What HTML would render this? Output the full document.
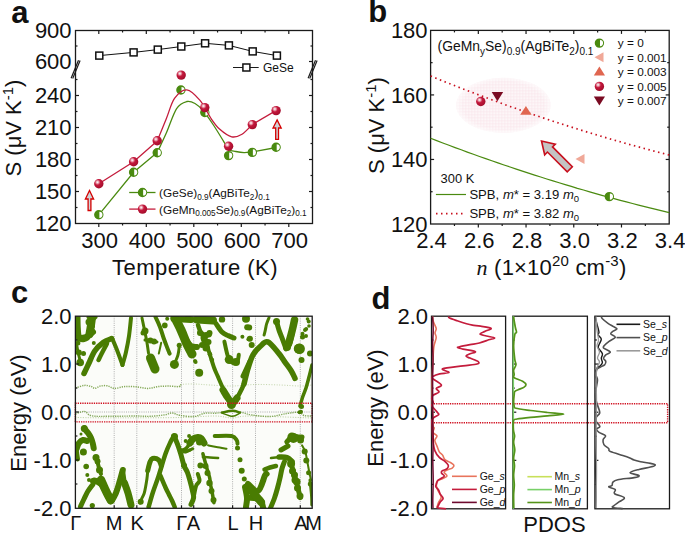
<!DOCTYPE html>
<html><head><meta charset="utf-8"><style>
html,body{margin:0;padding:0;background:#fff;}
body{width:685px;height:533px;overflow:hidden;}
svg{display:block;font-family:"Liberation Sans", sans-serif;}
</style></head><body>
<svg width="685" height="533" viewBox="0 0 685 533">

<defs>
 <radialGradient id="sph" cx="0.36" cy="0.33" r="0.72">
  <stop offset="0" stop-color="#ffffff"/>
  <stop offset="0.16" stop-color="#eeb4c0"/>
  <stop offset="0.42" stop-color="#c4183c"/>
  <stop offset="1" stop-color="#a00c2a"/>
 </radialGradient>
 <pattern id="ellp" width="1.5" height="1.5" patternUnits="userSpaceOnUse">
  <rect width="1.5" height="1.5" fill="#fefafb"/>
  <rect width="1.5" height="0.45" fill="#fae7ec"/>
  <rect width="0.45" height="1.5" fill="#fae7ec"/>
 </pattern>
 <radialGradient id="ellfade" cx="0.5" cy="0.5" r="0.5">
  <stop offset="0.85" stop-color="#fff" stop-opacity="0"/>
  <stop offset="1" stop-color="#fff" stop-opacity="0.6"/>
 </radialGradient>
</defs>
<text x="11.20" y="23.00" font-size="31" text-anchor="start" font-weight="bold" fill="#111" >a</text>
<rect x="75.5" y="30.5" width="237.0" height="193.0" fill="none" stroke="#1a1a1a" stroke-width="1.3"/>
<line x1="98.80" y1="223.50" x2="98.80" y2="227.00" stroke="#1a1a1a" stroke-width="1.2" />
<line x1="98.80" y1="30.50" x2="98.80" y2="34.00" stroke="#1a1a1a" stroke-width="1.2" />
<line x1="122.55" y1="223.50" x2="122.55" y2="225.50" stroke="#1a1a1a" stroke-width="1.2" />
<line x1="122.55" y1="30.50" x2="122.55" y2="32.50" stroke="#1a1a1a" stroke-width="1.2" />
<line x1="146.30" y1="223.50" x2="146.30" y2="227.00" stroke="#1a1a1a" stroke-width="1.2" />
<line x1="146.30" y1="30.50" x2="146.30" y2="34.00" stroke="#1a1a1a" stroke-width="1.2" />
<line x1="170.05" y1="223.50" x2="170.05" y2="225.50" stroke="#1a1a1a" stroke-width="1.2" />
<line x1="170.05" y1="30.50" x2="170.05" y2="32.50" stroke="#1a1a1a" stroke-width="1.2" />
<line x1="193.80" y1="223.50" x2="193.80" y2="227.00" stroke="#1a1a1a" stroke-width="1.2" />
<line x1="193.80" y1="30.50" x2="193.80" y2="34.00" stroke="#1a1a1a" stroke-width="1.2" />
<line x1="217.55" y1="223.50" x2="217.55" y2="225.50" stroke="#1a1a1a" stroke-width="1.2" />
<line x1="217.55" y1="30.50" x2="217.55" y2="32.50" stroke="#1a1a1a" stroke-width="1.2" />
<line x1="241.30" y1="223.50" x2="241.30" y2="227.00" stroke="#1a1a1a" stroke-width="1.2" />
<line x1="241.30" y1="30.50" x2="241.30" y2="34.00" stroke="#1a1a1a" stroke-width="1.2" />
<line x1="265.05" y1="223.50" x2="265.05" y2="225.50" stroke="#1a1a1a" stroke-width="1.2" />
<line x1="265.05" y1="30.50" x2="265.05" y2="32.50" stroke="#1a1a1a" stroke-width="1.2" />
<line x1="288.80" y1="223.50" x2="288.80" y2="227.00" stroke="#1a1a1a" stroke-width="1.2" />
<line x1="288.80" y1="30.50" x2="288.80" y2="34.00" stroke="#1a1a1a" stroke-width="1.2" />
<text x="99.70" y="247.70" font-size="22" text-anchor="middle" font-weight="normal" fill="#111" >300</text>
<text x="147.20" y="247.70" font-size="22" text-anchor="middle" font-weight="normal" fill="#111" >400</text>
<text x="194.70" y="247.70" font-size="22" text-anchor="middle" font-weight="normal" fill="#111" >500</text>
<text x="242.20" y="247.70" font-size="22" text-anchor="middle" font-weight="normal" fill="#111" >600</text>
<text x="289.70" y="247.70" font-size="22" text-anchor="middle" font-weight="normal" fill="#111" >700</text>
<line x1="75.50" y1="207.50" x2="77.50" y2="207.50" stroke="#1a1a1a" stroke-width="1.2" />
<line x1="312.50" y1="207.50" x2="310.50" y2="207.50" stroke="#1a1a1a" stroke-width="1.2" />
<line x1="75.50" y1="191.50" x2="79.00" y2="191.50" stroke="#1a1a1a" stroke-width="1.2" />
<line x1="312.50" y1="191.50" x2="309.00" y2="191.50" stroke="#1a1a1a" stroke-width="1.2" />
<line x1="75.50" y1="175.50" x2="77.50" y2="175.50" stroke="#1a1a1a" stroke-width="1.2" />
<line x1="312.50" y1="175.50" x2="310.50" y2="175.50" stroke="#1a1a1a" stroke-width="1.2" />
<line x1="75.50" y1="159.50" x2="79.00" y2="159.50" stroke="#1a1a1a" stroke-width="1.2" />
<line x1="312.50" y1="159.50" x2="309.00" y2="159.50" stroke="#1a1a1a" stroke-width="1.2" />
<line x1="75.50" y1="143.50" x2="77.50" y2="143.50" stroke="#1a1a1a" stroke-width="1.2" />
<line x1="312.50" y1="143.50" x2="310.50" y2="143.50" stroke="#1a1a1a" stroke-width="1.2" />
<line x1="75.50" y1="127.50" x2="79.00" y2="127.50" stroke="#1a1a1a" stroke-width="1.2" />
<line x1="312.50" y1="127.50" x2="309.00" y2="127.50" stroke="#1a1a1a" stroke-width="1.2" />
<line x1="75.50" y1="111.50" x2="77.50" y2="111.50" stroke="#1a1a1a" stroke-width="1.2" />
<line x1="312.50" y1="111.50" x2="310.50" y2="111.50" stroke="#1a1a1a" stroke-width="1.2" />
<line x1="75.50" y1="95.50" x2="79.00" y2="95.50" stroke="#1a1a1a" stroke-width="1.2" />
<line x1="312.50" y1="95.50" x2="309.00" y2="95.50" stroke="#1a1a1a" stroke-width="1.2" />
<line x1="75.50" y1="79.50" x2="77.50" y2="79.50" stroke="#1a1a1a" stroke-width="1.2" />
<line x1="312.50" y1="79.50" x2="310.50" y2="79.50" stroke="#1a1a1a" stroke-width="1.2" />
<line x1="75.50" y1="46.00" x2="77.50" y2="46.00" stroke="#1a1a1a" stroke-width="1.2" />
<line x1="312.50" y1="46.00" x2="310.50" y2="46.00" stroke="#1a1a1a" stroke-width="1.2" />
<line x1="312.50" y1="61.50" x2="309.00" y2="61.50" stroke="#1a1a1a" stroke-width="1.2" />
<text x="71.60" y="231.40" font-size="22" text-anchor="end" font-weight="normal" fill="#111" >120</text>
<text x="71.60" y="199.40" font-size="22" text-anchor="end" font-weight="normal" fill="#111" >150</text>
<text x="71.60" y="167.40" font-size="22" text-anchor="end" font-weight="normal" fill="#111" >180</text>
<text x="71.60" y="135.40" font-size="22" text-anchor="end" font-weight="normal" fill="#111" >210</text>
<text x="71.60" y="103.40" font-size="22" text-anchor="end" font-weight="normal" fill="#111" >240</text>
<text x="71.60" y="69.40" font-size="22" text-anchor="end" font-weight="normal" fill="#111" >600</text>
<text x="71.60" y="38.40" font-size="22" text-anchor="end" font-weight="normal" fill="#111" >900</text>
<line x1="71.10" y1="78.20" x2="78.50" y2="60.20" stroke="#1a1a1a" stroke-width="1.2" />
<line x1="72.70" y1="78.60" x2="80.10" y2="60.60" stroke="#1a1a1a" stroke-width="1.2" />
<line x1="308.10" y1="78.20" x2="315.50" y2="60.20" stroke="#1a1a1a" stroke-width="1.2" />
<line x1="309.70" y1="78.60" x2="317.10" y2="60.60" stroke="#1a1a1a" stroke-width="1.2" />
<text x="195.00" y="274.80" font-size="22" text-anchor="middle" font-weight="normal" fill="#111" letter-spacing="0.47">Temperature (K)</text>
<text transform="translate(20.5,128) rotate(-90)" font-size="22" text-anchor="middle" fill="#111">S (μV K<tspan font-size="15" dy="-8">-1</tspan><tspan dy="8">)</tspan></text>
<polyline points="99.3,55.6 133.6,52.4 157.8,49.6 181.3,46.5 205.1,43.3 228.9,45.4 252.7,51.4 276.9,55.6" fill="none" stroke="#111" stroke-width="1"/>
<rect x="95.80" y="52.10" width="7.0" height="7.0" fill="#fff" stroke="#111" stroke-width="1.5"/>
<rect x="130.10" y="48.90" width="7.0" height="7.0" fill="#fff" stroke="#111" stroke-width="1.5"/>
<rect x="154.30" y="46.10" width="7.0" height="7.0" fill="#fff" stroke="#111" stroke-width="1.5"/>
<rect x="177.80" y="43.00" width="7.0" height="7.0" fill="#fff" stroke="#111" stroke-width="1.5"/>
<rect x="201.60" y="39.80" width="7.0" height="7.0" fill="#fff" stroke="#111" stroke-width="1.5"/>
<rect x="225.40" y="41.90" width="7.0" height="7.0" fill="#fff" stroke="#111" stroke-width="1.5"/>
<rect x="249.20" y="47.90" width="7.0" height="7.0" fill="#fff" stroke="#111" stroke-width="1.5"/>
<rect x="273.40" y="52.10" width="7.0" height="7.0" fill="#fff" stroke="#111" stroke-width="1.5"/>
<line x1="233.00" y1="67.50" x2="258.70" y2="67.50" stroke="#1a1a1a" stroke-width="1" />
<rect x="242.90" y="64.00" width="7.0" height="7.0" fill="#fff" stroke="#111" stroke-width="1.5"/>
<text x="263.00" y="71.80" font-size="12" text-anchor="start" font-weight="normal" fill="#111" >GeSe</text>
<polyline points="98.8,214.8 133.6,172.3 157.2,152.6" fill="none" stroke="#4a8a10" stroke-width="1.3"/>
<path d="M157.20,152.60 C158.72,149.35 163.07,140.43 166.30,133.10 C169.53,125.77 173.18,113.87 176.60,108.60 C180.02,103.33 183.73,102.35 186.80,101.50 C189.87,100.65 192.28,101.97 195.00,103.50 C197.72,105.03 200.03,107.12 203.10,110.70 C206.17,114.28 209.98,119.90 213.40,125.00 C216.82,130.10 221.05,137.22 223.60,141.30 C226.15,145.38 226.67,147.80 228.70,149.50 C230.73,151.20 233.25,150.98 235.80,151.50 C238.35,152.02 241.27,152.52 244.00,152.60 C246.73,152.68 250.83,152.10 252.20,152.00" fill="none" stroke="#4a8a10" stroke-width="1.3"/>
<polyline points="252.2,152.0 276.3,147.5" fill="none" stroke="#4a8a10" stroke-width="1.3"/>
<circle cx="98.80" cy="214.80" r="3.95" fill="#4a8a10" stroke="#4a8a10" stroke-width="1.5"/>
<path d="M99.40,211.70 A3.1,3.1 0 0 1 99.40,217.90 Z" fill="#fff"/>
<circle cx="133.60" cy="172.30" r="3.95" fill="#4a8a10" stroke="#4a8a10" stroke-width="1.5"/>
<path d="M134.20,169.20 A3.1,3.1 0 0 1 134.20,175.40 Z" fill="#fff"/>
<circle cx="157.20" cy="152.70" r="3.95" fill="#4a8a10" stroke="#4a8a10" stroke-width="1.5"/>
<path d="M157.80,149.60 A3.1,3.1 0 0 1 157.80,155.80 Z" fill="#fff"/>
<circle cx="180.90" cy="90.00" r="3.95" fill="#4a8a10" stroke="#4a8a10" stroke-width="1.5"/>
<path d="M181.50,86.90 A3.1,3.1 0 0 1 181.50,93.10 Z" fill="#fff"/>
<circle cx="204.80" cy="112.50" r="3.95" fill="#4a8a10" stroke="#4a8a10" stroke-width="1.5"/>
<path d="M205.40,109.40 A3.1,3.1 0 0 1 205.40,115.60 Z" fill="#fff"/>
<circle cx="228.60" cy="155.60" r="3.95" fill="#4a8a10" stroke="#4a8a10" stroke-width="1.5"/>
<path d="M229.20,152.50 A3.1,3.1 0 0 1 229.20,158.70 Z" fill="#fff"/>
<circle cx="252.30" cy="152.40" r="3.95" fill="#4a8a10" stroke="#4a8a10" stroke-width="1.5"/>
<path d="M252.90,149.30 A3.1,3.1 0 0 1 252.90,155.50 Z" fill="#fff"/>
<circle cx="276.10" cy="147.30" r="3.95" fill="#4a8a10" stroke="#4a8a10" stroke-width="1.5"/>
<path d="M276.70,144.20 A3.1,3.1 0 0 1 276.70,150.40 Z" fill="#fff"/>
<polyline points="98.8,183.8 133.6,161.8 157.2,140.9" fill="none" stroke="#c41c3c" stroke-width="1.3"/>
<path d="M157.20,140.90 C158.72,137.22 163.42,125.88 166.30,118.80 C169.18,111.72 171.08,103.23 174.50,98.40 C177.92,93.57 182.55,89.47 186.80,89.80 C191.05,90.13 195.92,95.57 200.00,100.40 C204.08,105.23 208.05,114.03 211.30,118.80 C214.55,123.57 216.10,126.00 219.50,129.00 C222.90,132.00 227.95,135.93 231.70,136.80 C235.45,137.67 238.58,136.23 242.00,134.20 C245.42,132.17 250.50,126.20 252.20,124.60" fill="none" stroke="#c41c3c" stroke-width="1.3"/>
<polyline points="252.2,124.6 276.3,110.4" fill="none" stroke="#c41c3c" stroke-width="1.3"/>
<circle cx="98.80" cy="183.80" r="4.7" fill="url(#sph)"/>
<circle cx="133.60" cy="161.80" r="4.7" fill="url(#sph)"/>
<circle cx="157.20" cy="140.80" r="4.7" fill="url(#sph)"/>
<circle cx="181.20" cy="75.10" r="4.7" fill="url(#sph)"/>
<circle cx="204.80" cy="107.60" r="4.7" fill="url(#sph)"/>
<circle cx="228.60" cy="146.30" r="4.7" fill="url(#sph)"/>
<circle cx="252.30" cy="124.60" r="4.7" fill="url(#sph)"/>
<circle cx="276.10" cy="110.60" r="4.7" fill="url(#sph)"/>
<line x1="129.20" y1="192.50" x2="155.50" y2="192.50" stroke="#4a8a10" stroke-width="1.3" />
<circle cx="142.50" cy="192.50" r="3.95" fill="#4a8a10" stroke="#4a8a10" stroke-width="1.5"/>
<path d="M143.10,189.40 A3.1,3.1 0 0 1 143.10,195.60 Z" fill="#fff"/>
<line x1="129.20" y1="209.10" x2="155.50" y2="209.10" stroke="#c41c3c" stroke-width="1.3" />
<circle cx="142.50" cy="209.10" r="4.7" fill="url(#sph)"/>
<text x="159.1" y="197.0" font-size="11.8" fill="#111">(GeSe)<tspan font-size="8.2" dy="2.5">0.9</tspan><tspan dy="-2.5">(AgBiTe</tspan><tspan font-size="8.2" dy="2.5">2</tspan><tspan dy="-2.5">)</tspan><tspan font-size="8.2" dy="2.5">0.1</tspan></text>
<text x="159.1" y="213.6" font-size="11.8" fill="#111">(GeMn<tspan font-size="8.2" dy="2.5">0.005</tspan><tspan dy="-2.5">Se)</tspan><tspan font-size="8.2" dy="2.5">0.9</tspan><tspan dy="-2.5">(AgBiTe</tspan><tspan font-size="8.2" dy="2.5">2</tspan><tspan dy="-2.5">)</tspan><tspan font-size="8.2" dy="2.5">0.1</tspan></text>
<path d="M89.50,190.50 L93.60,199.00 L90.90,199.00 L90.90,210.50 L88.10,210.50 L88.10,199.00 L85.40,199.00 Z" fill="#cfd2d6" stroke="#d40000" stroke-width="1.3" stroke-linejoin="miter"/>
<path d="M277.10,119.90 L281.20,128.00 L278.50,128.00 L278.50,139.30 L275.70,139.30 L275.70,128.00 L273.00,128.00 Z" fill="#cfd2d6" stroke="#d40000" stroke-width="1.3" stroke-linejoin="miter"/>
<text x="368.30" y="22.20" font-size="31" text-anchor="start" font-weight="bold" fill="#111" >b</text>
<ellipse cx="503.4" cy="105.3" rx="47.2" ry="27.5" fill="url(#ellp)"/>
<ellipse cx="503.4" cy="105.3" rx="47.2" ry="27.5" fill="url(#ellfade)"/>
<rect x="430.6" y="30.4" width="238.60000000000002" height="193.6" fill="none" stroke="#1a1a1a" stroke-width="1.3"/>
<line x1="454.46" y1="224.00" x2="454.46" y2="226.00" stroke="#1a1a1a" stroke-width="1.2" />
<line x1="454.46" y1="30.40" x2="454.46" y2="32.40" stroke="#1a1a1a" stroke-width="1.2" />
<line x1="478.32" y1="224.00" x2="478.32" y2="227.50" stroke="#1a1a1a" stroke-width="1.2" />
<line x1="478.32" y1="30.40" x2="478.32" y2="33.90" stroke="#1a1a1a" stroke-width="1.2" />
<line x1="502.18" y1="224.00" x2="502.18" y2="226.00" stroke="#1a1a1a" stroke-width="1.2" />
<line x1="502.18" y1="30.40" x2="502.18" y2="32.40" stroke="#1a1a1a" stroke-width="1.2" />
<line x1="526.04" y1="224.00" x2="526.04" y2="227.50" stroke="#1a1a1a" stroke-width="1.2" />
<line x1="526.04" y1="30.40" x2="526.04" y2="33.90" stroke="#1a1a1a" stroke-width="1.2" />
<line x1="549.90" y1="224.00" x2="549.90" y2="226.00" stroke="#1a1a1a" stroke-width="1.2" />
<line x1="549.90" y1="30.40" x2="549.90" y2="32.40" stroke="#1a1a1a" stroke-width="1.2" />
<line x1="573.76" y1="224.00" x2="573.76" y2="227.50" stroke="#1a1a1a" stroke-width="1.2" />
<line x1="573.76" y1="30.40" x2="573.76" y2="33.90" stroke="#1a1a1a" stroke-width="1.2" />
<line x1="597.62" y1="224.00" x2="597.62" y2="226.00" stroke="#1a1a1a" stroke-width="1.2" />
<line x1="597.62" y1="30.40" x2="597.62" y2="32.40" stroke="#1a1a1a" stroke-width="1.2" />
<line x1="621.48" y1="224.00" x2="621.48" y2="227.50" stroke="#1a1a1a" stroke-width="1.2" />
<line x1="621.48" y1="30.40" x2="621.48" y2="33.90" stroke="#1a1a1a" stroke-width="1.2" />
<line x1="645.34" y1="224.00" x2="645.34" y2="226.00" stroke="#1a1a1a" stroke-width="1.2" />
<line x1="645.34" y1="30.40" x2="645.34" y2="32.40" stroke="#1a1a1a" stroke-width="1.2" />
<text x="431.50" y="247.50" font-size="22" text-anchor="middle" font-weight="normal" fill="#111" >2.4</text>
<text x="479.22" y="247.50" font-size="22" text-anchor="middle" font-weight="normal" fill="#111" >2.6</text>
<text x="526.94" y="247.50" font-size="22" text-anchor="middle" font-weight="normal" fill="#111" >2.8</text>
<text x="574.66" y="247.50" font-size="22" text-anchor="middle" font-weight="normal" fill="#111" >3.0</text>
<text x="622.38" y="247.50" font-size="22" text-anchor="middle" font-weight="normal" fill="#111" >3.2</text>
<text x="670.10" y="247.50" font-size="22" text-anchor="middle" font-weight="normal" fill="#111" >3.4</text>
<line x1="430.60" y1="191.73" x2="432.60" y2="191.73" stroke="#1a1a1a" stroke-width="1.2" />
<line x1="669.20" y1="191.73" x2="667.20" y2="191.73" stroke="#1a1a1a" stroke-width="1.2" />
<line x1="430.60" y1="159.46" x2="434.10" y2="159.46" stroke="#1a1a1a" stroke-width="1.2" />
<line x1="669.20" y1="159.46" x2="665.70" y2="159.46" stroke="#1a1a1a" stroke-width="1.2" />
<line x1="430.60" y1="127.19" x2="432.60" y2="127.19" stroke="#1a1a1a" stroke-width="1.2" />
<line x1="669.20" y1="127.19" x2="667.20" y2="127.19" stroke="#1a1a1a" stroke-width="1.2" />
<line x1="430.60" y1="94.92" x2="434.10" y2="94.92" stroke="#1a1a1a" stroke-width="1.2" />
<line x1="669.20" y1="94.92" x2="665.70" y2="94.92" stroke="#1a1a1a" stroke-width="1.2" />
<line x1="430.60" y1="62.65" x2="432.60" y2="62.65" stroke="#1a1a1a" stroke-width="1.2" />
<line x1="669.20" y1="62.65" x2="667.20" y2="62.65" stroke="#1a1a1a" stroke-width="1.2" />
<text x="427.60" y="231.90" font-size="22" text-anchor="end" font-weight="normal" fill="#111" >120</text>
<text x="427.60" y="167.36" font-size="22" text-anchor="end" font-weight="normal" fill="#111" >140</text>
<text x="427.60" y="102.82" font-size="22" text-anchor="end" font-weight="normal" fill="#111" >160</text>
<text x="427.60" y="38.28" font-size="22" text-anchor="end" font-weight="normal" fill="#111" >180</text>
<text transform="translate(383.8,125.5) rotate(-90)" font-size="22" text-anchor="middle" fill="#111">S (μV K<tspan font-size="15" dy="-8">-1</tspan><tspan dy="8">)</tspan></text>
<text x="476.6" y="274.7" font-size="22" fill="#111" letter-spacing="0.2"><tspan font-family="Liberation Serif" font-style="italic">n</tspan> (1×10<tspan font-size="15" dy="-9">20</tspan><tspan dy="9"> cm</tspan><tspan font-size="15" dy="-9">-3</tspan><tspan dy="9">)</tspan></text>
<polyline points="430.6,138.3 436.7,140.6 442.8,143.0 449.0,145.3 455.1,147.6 461.2,149.8 467.3,152.1 473.4,154.3 479.5,156.5 485.7,158.6 491.8,160.8 497.9,162.9 504.0,165.0 510.1,167.0 516.3,169.1 522.4,171.1 528.5,173.1 534.6,175.1 540.7,177.0 546.8,179.0 553.0,180.9 559.1,182.8 565.2,184.6 571.3,186.4 577.4,188.3 583.5,190.0 589.7,191.8 595.8,193.6 601.9,195.3 608.0,197.0 614.1,198.6 620.3,200.3 626.4,201.9 632.5,203.5 638.6,205.1 644.7,206.6 650.8,208.2 657.0,209.7 663.1,211.2 669.2,212.6" fill="none" stroke="#4a8a10" stroke-width="1.2"/>
<polyline points="430.6,76.0 436.7,78.5 442.8,81.0 449.0,83.4 455.1,85.8 461.2,88.2 467.3,90.6 473.4,92.9 479.5,95.2 485.7,97.5 491.8,99.8 497.9,102.0 504.0,104.3 510.1,106.5 516.3,108.6 522.4,110.8 528.5,112.9 534.6,115.0 540.7,117.1 546.8,119.1 553.0,121.2 559.1,123.2 565.2,125.1 571.3,127.1 577.4,129.0 583.5,130.9 589.7,132.8 595.8,134.6 601.9,136.5 608.0,138.3 614.1,140.1 620.3,141.8 626.4,143.6 632.5,145.3 638.6,146.9 644.7,148.6 650.8,150.2 657.0,151.9 663.1,153.4 669.2,155.0" fill="none" stroke="#c8101e" stroke-width="1.7" stroke-dasharray="1.5 3.5" />
<circle cx="609.30" cy="196.60" r="3.95" fill="#4a8a10" stroke="#4a8a10" stroke-width="1.5"/>
<path d="M609.90,193.50 A3.1,3.1 0 0 1 609.90,199.70 Z" fill="#fff"/>
<circle cx="480.80" cy="101.50" r="4.7" fill="url(#sph)"/>
<path d="M491.7,92 L503.2,92 L497.4,101.2 Z" fill="#7a0a22"/>
<path d="M525.9,105.9 L531.6,114.7 L520.2,114.7 Z" fill="#e06650"/>
<path d="M575.5,159 L584.5,154 L584.5,164 Z" fill="#f0a898"/>
<path d="M541.50,141.00 L544.68,154.79 L547.44,152.03 L567.24,171.83 L572.33,166.74 L552.53,146.94 L555.29,144.18 Z" fill="#c4c4c4" stroke="#c8101e" stroke-width="1.6" stroke-linejoin="miter"/>
<text x="437.6" y="51" font-size="13.9" fill="#111">(GeMn<tspan font-size="10" dy="3.5">y</tspan><tspan dy="-3.5">Se)</tspan><tspan font-size="10" dy="3.5">0.9</tspan><tspan dy="-3.5">(AgBiTe</tspan><tspan font-size="10" dy="3.5">2</tspan><tspan dy="-3.5">)</tspan><tspan font-size="10" dy="3.5">0.1</tspan></text>
<circle cx="599.40" cy="43.10" r="3.95" fill="#4a8a10" stroke="#4a8a10" stroke-width="1.5"/>
<path d="M600.00,40.00 A3.1,3.1 0 0 1 600.00,46.20 Z" fill="#fff"/>
<path d="M594.5,57.2 L603.5,52.2 L603.5,62.2 Z" fill="#f0a898"/>
<path d="M599.4,66.5 L605,75.5 L593.8,75.5 Z" fill="#e06650"/>
<circle cx="599.40" cy="86.40" r="4.7" fill="url(#sph)"/>
<path d="M593.8,96.5 L605,96.5 L599.4,105.5 Z" fill="#7a0a22"/>
<text x="617.80" y="47.40" font-size="11.8" text-anchor="start" font-weight="normal" fill="#111" >y = 0</text>
<text x="617.80" y="61.50" font-size="11.8" text-anchor="start" font-weight="normal" fill="#111" >y = 0.001</text>
<text x="617.80" y="75.80" font-size="11.8" text-anchor="start" font-weight="normal" fill="#111" >y = 0.003</text>
<text x="617.80" y="90.70" font-size="11.8" text-anchor="start" font-weight="normal" fill="#111" >y = 0.005</text>
<text x="617.80" y="105.30" font-size="11.8" text-anchor="start" font-weight="normal" fill="#111" >y = 0.007</text>
<text x="440.60" y="183.40" font-size="12.9" text-anchor="start" font-weight="normal" fill="#111" >300 K</text>
<line x1="435.90" y1="194.50" x2="466.00" y2="194.50" stroke="#4a8a10" stroke-width="1.2" />
<line x1="436" y1="213.6" x2="466" y2="213.6" stroke="#c8101e" stroke-width="1.7" stroke-dasharray="1.5 3.5"/>
<text x="469.4" y="198.9" font-size="13.1" fill="#111">SPB, <tspan font-style="italic">m</tspan>* = 3.19 <tspan font-style="italic">m</tspan><tspan font-size="9.5" dy="3">0</tspan></text>
<text x="469.4" y="218.0" font-size="13.1" fill="#111">SPB, <tspan font-style="italic">m</tspan>* = 3.82 <tspan font-style="italic">m</tspan><tspan font-size="9.5" dy="3">0</tspan></text>
<text x="11.00" y="302.80" font-size="31" text-anchor="start" font-weight="bold" fill="#111" >c</text>
<text x="71.50" y="323.90" font-size="22" text-anchor="end" font-weight="normal" fill="#111" >2.0</text>
<text x="71.50" y="371.90" font-size="22" text-anchor="end" font-weight="normal" fill="#111" >1.0</text>
<text x="71.50" y="419.90" font-size="22" text-anchor="end" font-weight="normal" fill="#111" >0.0</text>
<text x="71.50" y="467.90" font-size="22" text-anchor="end" font-weight="normal" fill="#111" >-1.0</text>
<text x="71.50" y="515.90" font-size="22" text-anchor="end" font-weight="normal" fill="#111" >-2.0</text>
<text transform="translate(26.1,413) rotate(-90)" font-size="22" text-anchor="middle" fill="#111">Energy (eV)</text>
<text x="75.80" y="529.70" font-size="20" text-anchor="middle" font-weight="normal" fill="#111" >Γ</text>
<text x="114.00" y="529.70" font-size="20" text-anchor="middle" font-weight="normal" fill="#111" >M</text>
<text x="137.20" y="529.70" font-size="20" text-anchor="middle" font-weight="normal" fill="#111" >K</text>
<text x="181.70" y="529.70" font-size="20" text-anchor="middle" font-weight="normal" fill="#111" >Γ</text>
<text x="193.40" y="529.70" font-size="20" text-anchor="middle" font-weight="normal" fill="#111" >A</text>
<text x="233.10" y="529.70" font-size="20" text-anchor="middle" font-weight="normal" fill="#111" >L</text>
<text x="255.90" y="529.70" font-size="20" text-anchor="middle" font-weight="normal" fill="#111" >H</text>
<text x="300.80" y="529.70" font-size="20" text-anchor="middle" font-weight="normal" fill="#111" >A</text>
<text x="313.70" y="529.70" font-size="20" text-anchor="middle" font-weight="normal" fill="#111" >M</text>
<clipPath id="cclip"><rect x="75.4" y="316.2" width="236.79999999999998" height="192.10000000000002"/></clipPath>
<g clip-path="url(#cclip)">
<rect x="75.4" y="316.2" width="236.79999999999998" height="192.10000000000002" fill="#fbfcf9"/>
<line x1="114.2" y1="316.2" x2="114.2" y2="508.3" stroke="#9a9a9a" stroke-width="0.8" stroke-dasharray="1 1.2"/>
<line x1="136.8" y1="316.2" x2="136.8" y2="508.3" stroke="#9a9a9a" stroke-width="0.8" stroke-dasharray="1 1.2"/>
<line x1="181.5" y1="316.2" x2="181.5" y2="508.3" stroke="#9a9a9a" stroke-width="0.8" stroke-dasharray="1 1.2"/>
<line x1="193.7" y1="316.2" x2="193.7" y2="508.3" stroke="#9a9a9a" stroke-width="0.8" stroke-dasharray="1 1.2"/>
<line x1="232.6" y1="316.2" x2="232.6" y2="508.3" stroke="#9a9a9a" stroke-width="0.8" stroke-dasharray="1 1.2"/>
<line x1="255.5" y1="316.2" x2="255.5" y2="508.3" stroke="#9a9a9a" stroke-width="0.8" stroke-dasharray="1 1.2"/>
<line x1="300.3" y1="316.2" x2="300.3" y2="508.3" stroke="#9a9a9a" stroke-width="0.8" stroke-dasharray="1 1.2"/>
<line x1="75.4" y1="412" x2="312.2" y2="412" stroke="#9a9a9a" stroke-width="0.8" stroke-dasharray="1 1.2"/>
<path d="M75.50,388.00 C77.00,387.57 81.83,385.63 84.50,385.40 C87.17,385.17 89.75,386.10 91.50,386.60 C93.25,387.10 93.53,388.48 95.00,388.40 C96.47,388.32 98.25,386.53 100.30,386.10 C102.35,385.67 104.97,385.42 107.30,385.80 C109.63,386.18 111.38,388.27 114.30,388.40 C117.22,388.53 121.18,386.87 124.80,386.60 C128.42,386.33 132.20,386.50 136.00,386.80 C139.80,387.10 143.93,388.43 147.60,388.40 C151.27,388.37 154.50,386.98 158.00,386.60 C161.50,386.22 165.08,386.10 168.60,386.10 C172.12,386.10 177.03,386.87 179.10,386.60 C181.17,386.33 180.68,384.85 181.00,384.50" fill="none" stroke="#6e9a3a" stroke-width="1.5" stroke-dasharray="1.2 1.1" opacity="0.85"/>
<path d="M179.10,386.60 C179.42,386.25 178.52,384.93 181.00,384.50 C183.48,384.07 189.17,383.92 194.00,384.00 C198.83,384.08 203.67,384.67 210.00,385.00 C216.33,385.33 224.50,386.08 232.00,386.00 C239.50,385.92 247.00,384.67 255.00,384.50 C263.00,384.33 272.50,384.75 280.00,385.00 C287.50,385.25 294.67,386.00 300.00,386.00 C305.33,386.00 310.00,385.17 312.00,385.00" fill="none" stroke="#8aae5e" stroke-width="1.0" stroke-dasharray="1 1.6" opacity="0.5"/>
<path d="M75.50,414.00 C77.00,413.57 81.83,411.10 84.50,411.40 C87.17,411.70 87.25,414.98 91.50,415.80 C95.75,416.62 102.58,416.27 110.00,416.30 C117.42,416.33 129.33,416.00 136.00,416.00 C142.67,416.00 145.17,416.50 150.00,416.30 C154.83,416.10 161.33,415.35 165.00,414.80 C168.67,414.25 169.50,412.92 172.00,413.00 C174.50,413.08 176.33,414.72 180.00,415.30 C183.67,415.88 189.92,416.83 194.00,416.50 C198.08,416.17 201.00,413.85 204.50,413.30 C208.00,412.75 212.08,413.33 215.00,413.20 C217.92,413.07 219.08,412.87 222.00,412.50 C224.92,412.13 229.17,411.00 232.50,411.00 C235.83,411.00 238.75,411.83 242.00,412.50 C245.25,413.17 247.33,414.33 252.00,415.00 C256.67,415.67 264.17,416.75 270.00,416.50 C275.83,416.25 282.17,414.20 287.00,413.50 C291.83,412.80 296.17,411.97 299.00,412.30 C301.83,412.63 301.83,414.88 304.00,415.50 C306.17,416.12 310.67,415.92 312.00,416.00" fill="none" stroke="#5e8f2a" stroke-width="1.4" stroke-dasharray="1.3 1.0" opacity="0.75"/>
<path d="M75.50,417.50 C79.58,417.55 89.92,417.75 100.00,417.80 C110.08,417.85 122.50,417.85 136.00,417.80 C149.50,417.75 167.83,417.80 181.00,417.50 C194.17,417.20 206.42,415.92 215.00,416.00 C223.58,416.08 226.67,418.00 232.50,418.00 C238.33,418.00 236.75,416.00 250.00,416.00 C263.25,416.00 301.67,417.67 312.00,418.00" fill="none" stroke="#8aae5e" stroke-width="1.0" stroke-dasharray="1 1.5" opacity="0.6"/>
<path d="M77.50,316.50 C77.55,318.42 77.55,324.58 77.80,328.00 C78.05,331.42 77.97,335.17 79.00,337.00 C80.03,338.83 82.33,339.33 84.00,339.00 C85.67,338.67 87.83,337.17 89.00,335.00 C90.17,332.83 90.67,327.50 91.00,326.00" fill="none" stroke="#497c02" stroke-width="6.0" stroke-linecap="round" stroke-linejoin="round"/>
<path d="M89.50,334.00 C89.75,332.50 90.58,327.67 91.00,325.00 C91.42,322.33 91.83,319.17 92.00,318.00" fill="none" stroke="#497c02" stroke-width="8.0" stroke-linecap="round" stroke-linejoin="round"/>
<path d="M78.00,338.00 C79.33,337.83 83.50,338.00 86.00,337.00 C88.50,336.00 91.83,332.83 93.00,332.00" fill="none" stroke="#497c02" stroke-width="6.0" stroke-linecap="round" stroke-linejoin="round"/>
<path d="M89.00,317.00 C89.67,317.17 92.00,318.00 93.00,318.00 C94.00,318.00 94.67,317.17 95.00,317.00" fill="none" stroke="#497c02" stroke-width="5.0" stroke-linecap="round" stroke-linejoin="round"/>
<path d="M84.00,373.50 C84.83,371.75 87.21,366.75 89.00,363.00 C90.79,359.25 92.38,354.42 94.75,351.00 C97.12,347.58 100.39,344.57 103.20,342.50 C106.01,340.43 110.20,339.25 111.60,338.60" fill="none" stroke="#497c02" stroke-width="5.5" stroke-linecap="round" stroke-linejoin="round"/>
<path d="M112.00,338.00 C112.83,340.00 115.25,345.50 117.00,350.00 C118.75,354.50 121.58,362.50 122.50,365.00" fill="none" stroke="#497c02" stroke-width="4.0" stroke-linecap="round" stroke-linejoin="round"/>
<path d="M122.50,365.00 C123.08,362.83 124.92,356.83 126.00,352.00 C127.08,347.17 128.17,341.67 129.00,336.00 C129.83,330.33 130.67,321.00 131.00,318.00" fill="none" stroke="#497c02" stroke-width="4.0" stroke-linecap="round" stroke-linejoin="round"/>
<path d="M107.00,343.50 C106.33,344.75 104.42,348.25 103.00,351.00 C101.58,353.75 99.25,358.50 98.50,360.00" fill="none" stroke="#497c02" stroke-width="4.5" stroke-linecap="round" stroke-linejoin="round"/>
<path d="M76.50,344.00 C76.75,345.33 77.42,349.33 78.00,352.00 C78.58,354.67 79.67,358.67 80.00,360.00" fill="none" stroke="#497c02" stroke-width="3.0" stroke-linecap="round" stroke-linejoin="round"/>
<path d="M142.00,318.00 C142.40,319.93 143.60,325.67 144.40,329.60 C145.20,333.53 146.12,337.70 146.80,341.60 C147.48,345.50 148.22,351.10 148.50,353.00" fill="none" stroke="#497c02" stroke-width="3.0" stroke-linecap="round" stroke-linejoin="round"/>
<path d="M150.50,358.00 C151.25,359.83 154.25,367.17 155.00,369.00" fill="none" stroke="#497c02" stroke-width="9.0" stroke-linecap="round" stroke-linejoin="round"/>
<path d="M155.50,317.00 C156.25,318.67 158.65,323.50 160.00,327.00 C161.35,330.50 162.40,334.57 163.60,338.00 C164.80,341.43 166.20,345.00 167.20,347.60 C168.20,350.20 169.20,352.60 169.60,353.60" fill="none" stroke="#497c02" stroke-width="4.0" stroke-linecap="round" stroke-linejoin="round"/>
<path d="M174.40,364.00 C175.00,362.47 177.15,357.97 178.00,354.80 C178.85,351.63 179.25,346.63 179.50,345.00" fill="none" stroke="#497c02" stroke-width="3.0" stroke-linecap="round" stroke-linejoin="round"/>
<path d="M161.20,342.80 C160.80,344.60 159.20,351.80 158.80,353.60" fill="none" stroke="#497c02" stroke-width="2.0" stroke-linecap="round" stroke-linejoin="round"/>
<path d="M145.00,340.00 C146.00,340.08 149.00,340.17 151.00,340.50 C153.00,340.83 156.00,341.75 157.00,342.00" fill="none" stroke="#497c02" stroke-width="3.0" stroke-linecap="round" stroke-linejoin="round"/>
<path d="M175.00,318.00 C176.00,320.00 179.10,325.87 181.00,330.00 C182.90,334.13 184.57,338.80 186.40,342.80 C188.23,346.80 191.07,352.13 192.00,354.00" fill="none" stroke="#497c02" stroke-width="9.0" stroke-linecap="round" stroke-linejoin="round"/>
<path d="M174.00,318.50 C176.83,318.67 188.17,319.33 191.00,319.50" fill="none" stroke="#497c02" stroke-width="7.0" stroke-linecap="round" stroke-linejoin="round"/>
<path d="M186.00,340.00 C186.83,341.00 189.17,344.83 191.00,346.00 C192.83,347.17 196.00,346.83 197.00,347.00" fill="none" stroke="#497c02" stroke-width="6.0" stroke-linecap="round" stroke-linejoin="round"/>
<path d="M197.00,319.50 C199.67,319.67 210.33,320.33 213.00,320.50" fill="none" stroke="#497c02" stroke-width="8.0" stroke-linecap="round" stroke-linejoin="round"/>
<path d="M198.00,325.00 C198.50,326.33 199.67,330.50 201.00,333.00 C202.33,335.50 204.83,337.33 206.00,340.00 C207.17,342.67 207.67,347.50 208.00,349.00" fill="none" stroke="#497c02" stroke-width="4.5" stroke-linecap="round" stroke-linejoin="round"/>
<path d="M200.00,332.00 C200.83,332.67 203.50,335.67 205.00,336.00 C206.50,336.33 208.33,334.33 209.00,334.00" fill="none" stroke="#497c02" stroke-width="5.0" stroke-linecap="round" stroke-linejoin="round"/>
<path d="M203.00,340.00 C203.50,341.00 205.17,344.50 206.00,346.00 C206.83,347.50 207.67,348.50 208.00,349.00" fill="none" stroke="#497c02" stroke-width="4.0" stroke-linecap="round" stroke-linejoin="round"/>
<path d="M208.00,349.00 C208.33,349.97 208.97,351.63 210.00,354.80 C211.03,357.97 212.90,364.40 214.20,368.00 C215.50,371.60 216.50,373.40 217.80,376.40 C219.10,379.40 220.47,382.73 222.00,386.00 C223.53,389.27 225.25,393.00 227.00,396.00 C228.75,399.00 231.58,402.67 232.50,404.00" fill="none" stroke="#497c02" stroke-width="4.0" stroke-linecap="round" stroke-linejoin="round"/>
<path d="M216.00,323.60 C217.00,325.00 220.00,330.00 222.00,332.00 C224.00,334.00 226.00,334.60 228.00,335.60 C230.00,336.60 233.00,337.60 234.00,338.00" fill="none" stroke="#497c02" stroke-width="5.0" stroke-linecap="round" stroke-linejoin="round"/>
<path d="M224.40,341.60 C224.80,343.40 226.00,349.40 226.80,352.40 C227.60,355.40 228.00,357.80 229.20,359.60 C230.40,361.40 232.60,363.00 234.00,363.20 C235.40,363.40 236.80,362.20 237.60,360.80 C238.40,359.40 238.60,355.80 238.80,354.80" fill="none" stroke="#497c02" stroke-width="4.0" stroke-linecap="round" stroke-linejoin="round"/>
<path d="M232.50,404.00 C233.25,403.00 235.42,400.58 237.00,398.00 C238.58,395.42 240.83,390.83 242.00,388.50 C243.17,386.17 243.67,384.75 244.00,384.00" fill="none" stroke="#497c02" stroke-width="4.5" stroke-linecap="round" stroke-linejoin="round"/>
<path d="M223.00,390.00 C223.83,391.33 226.42,395.83 228.00,398.00 C229.58,400.17 231.00,403.00 232.50,403.00 C234.00,403.00 236.25,398.83 237.00,398.00" fill="none" stroke="#497c02" stroke-width="7.0" stroke-linecap="round" stroke-linejoin="round"/>
<path d="M222.00,412.50 C223.75,412.22 229.50,410.80 232.50,410.80 C235.50,410.80 238.75,412.22 240.00,412.50" fill="none" stroke="#497c02" stroke-width="2.4" stroke-linecap="round" stroke-linejoin="round"/>
<path d="M222.00,413.00 C223.75,413.55 229.50,416.30 232.50,416.30 C235.50,416.30 238.75,413.55 240.00,413.00" fill="none" stroke="#497c02" stroke-width="1.4" stroke-linecap="round" stroke-linejoin="round"/>
<path d="M242.40,376.40 C243.60,373.80 248.40,363.40 249.60,360.80" fill="none" stroke="#497c02" stroke-width="4.0" stroke-linecap="round" stroke-linejoin="round"/>
<path d="M244.00,384.00 C244.67,381.42 246.50,373.35 248.00,368.50 C249.50,363.65 250.93,358.62 253.00,354.90 C255.07,351.18 257.93,348.37 260.40,346.20 C262.87,344.03 264.70,340.67 267.80,341.90 C270.90,343.13 276.12,350.20 279.00,353.60 C281.88,357.00 283.05,359.40 285.10,362.30 C287.15,365.20 289.65,368.32 291.30,371.00 C292.95,373.68 294.38,377.17 295.00,378.40" fill="none" stroke="#497c02" stroke-width="5.5" stroke-linecap="round" stroke-linejoin="round"/>
<path d="M269.00,317.70 C268.60,318.73 267.22,321.83 266.60,323.90 C265.98,325.97 265.72,328.25 265.30,330.10 C264.88,331.95 264.30,334.18 264.10,335.00" fill="none" stroke="#497c02" stroke-width="3.0" stroke-linecap="round" stroke-linejoin="round"/>
<path d="M276.50,321.40 C276.92,322.85 278.18,327.62 279.00,330.10 C279.82,332.58 280.38,333.62 281.40,336.30 C282.42,338.98 284.27,344.13 285.10,346.20 C285.93,348.27 285.57,349.32 286.40,348.70 C287.23,348.08 289.07,345.40 290.10,342.50 C291.13,339.60 291.88,335.02 292.60,331.30 C293.32,327.58 294.10,322.05 294.40,320.20" fill="none" stroke="#497c02" stroke-width="5.0" stroke-linecap="round" stroke-linejoin="round"/>
<path d="M300.00,406.00 C300.50,404.33 302.00,399.00 303.00,396.00 C304.00,393.00 305.00,391.17 306.00,388.00 C307.00,384.83 308.00,380.83 309.00,377.00 C310.00,373.17 311.50,367.00 312.00,365.00" fill="none" stroke="#497c02" stroke-width="3.5" stroke-linecap="round" stroke-linejoin="round"/>
<path d="M288.50,344.00 C288.92,342.50 290.25,337.83 291.00,335.00 C291.75,332.17 292.42,329.50 293.00,327.00 C293.58,324.50 294.25,321.17 294.50,320.00" fill="none" stroke="#497c02" stroke-width="7.5" stroke-linecap="round" stroke-linejoin="round"/>
<path d="M76.50,449.00 C76.92,448.00 77.92,444.50 79.00,443.00 C80.08,441.50 81.67,440.33 83.00,440.00 C84.33,439.67 86.33,440.83 87.00,441.00" fill="none" stroke="#497c02" stroke-width="6.0" stroke-linecap="round" stroke-linejoin="round"/>
<path d="M75.50,445.00 C75.67,446.17 76.17,449.67 76.50,452.00 C76.83,454.33 77.33,457.83 77.50,459.00" fill="none" stroke="#497c02" stroke-width="5.0" stroke-linecap="round" stroke-linejoin="round"/>
<path d="M84.30,428.50 C84.93,429.27 87.00,431.55 88.10,433.10 C89.20,434.65 90.12,436.07 90.90,437.80 C91.68,439.53 92.33,441.77 92.80,443.50 C93.27,445.23 93.55,447.42 93.70,448.20" fill="none" stroke="#497c02" stroke-width="6.0" stroke-linecap="round" stroke-linejoin="round"/>
<path d="M96.00,457.60 C96.25,458.33 96.95,460.10 97.50,462.00 C98.05,463.90 98.72,467.00 99.30,469.00 C99.88,471.00 100.72,473.17 101.00,474.00" fill="none" stroke="#497c02" stroke-width="4.0" stroke-linecap="round" stroke-linejoin="round"/>
<path d="M93.00,481.00 C93.83,481.17 96.33,481.17 98.00,482.00 C99.67,482.83 101.37,483.83 103.00,486.00 C104.63,488.17 106.53,492.42 107.80,495.00 C109.07,497.58 109.32,501.67 110.60,501.50 C111.88,501.33 114.02,497.25 115.50,494.00 C116.98,490.75 118.28,486.00 119.50,482.00 C120.72,478.00 122.25,472.00 122.80,470.00" fill="none" stroke="#497c02" stroke-width="6.0" stroke-linecap="round" stroke-linejoin="round"/>
<path d="M101.00,480.00 C101.67,481.50 103.67,486.17 105.00,489.00 C106.33,491.83 108.00,495.17 109.00,497.00 C110.00,498.83 110.67,499.50 111.00,500.00" fill="none" stroke="#497c02" stroke-width="8.5" stroke-linecap="round" stroke-linejoin="round"/>
<path d="M94.00,480.00 C95.00,480.25 98.33,480.83 100.00,481.50 C101.67,482.17 103.33,483.58 104.00,484.00" fill="none" stroke="#497c02" stroke-width="5.0" stroke-linecap="round" stroke-linejoin="round"/>
<path d="M124.50,483.00 C125.08,484.67 126.92,489.33 128.00,493.00 C129.08,496.67 130.50,503.00 131.00,505.00" fill="none" stroke="#497c02" stroke-width="7.0" stroke-linecap="round" stroke-linejoin="round"/>
<path d="M123.00,470.00 C123.25,471.83 124.25,479.17 124.50,481.00" fill="none" stroke="#497c02" stroke-width="4.0" stroke-linecap="round" stroke-linejoin="round"/>
<path d="M80.50,506.50 C81.08,505.25 82.75,501.58 84.00,499.00 C85.25,496.42 86.52,493.43 88.00,491.00 C89.48,488.57 92.08,485.50 92.90,484.40" fill="none" stroke="#497c02" stroke-width="5.0" stroke-linecap="round" stroke-linejoin="round"/>
<path d="M147.70,470.70 C148.08,469.25 149.20,464.03 150.00,462.00 C150.80,459.97 151.05,458.83 152.50,458.50 C153.95,458.17 157.25,458.82 158.70,460.00 C160.15,461.18 160.78,464.67 161.20,465.60" fill="none" stroke="#497c02" stroke-width="5.0" stroke-linecap="round" stroke-linejoin="round"/>
<path d="M140.00,503.00 C140.33,502.17 141.27,499.73 142.00,498.00 C142.73,496.27 143.58,495.77 144.40,492.60 C145.22,489.43 146.35,482.65 146.90,479.00 C147.45,475.35 147.57,472.08 147.70,470.70" fill="none" stroke="#497c02" stroke-width="3.0" stroke-linecap="round" stroke-linejoin="round"/>
<path d="M148.60,507.00 C149.33,504.50 151.32,497.22 153.00,492.00 C154.68,486.78 156.62,482.07 158.70,475.70 C160.78,469.33 163.53,459.42 165.50,453.80 C167.47,448.18 169.10,444.97 170.50,442.00 C171.90,439.03 173.33,437.00 173.90,436.00" fill="none" stroke="#497c02" stroke-width="4.5" stroke-linecap="round" stroke-linejoin="round"/>
<path d="M173.90,436.00 C174.47,437.27 176.17,440.63 177.30,443.60 C178.43,446.57 179.58,450.13 180.70,453.80 C181.82,457.47 182.88,462.52 184.00,465.60 C185.12,468.68 186.40,469.77 187.40,472.30 C188.40,474.83 189.15,477.68 190.00,480.80 C190.85,483.92 191.90,488.18 192.50,491.00 C193.10,493.82 193.85,495.47 193.60,497.70 C193.35,499.93 191.43,503.28 191.00,504.40" fill="none" stroke="#497c02" stroke-width="5.0" stroke-linecap="round" stroke-linejoin="round"/>
<path d="M160.40,475.70 C161.25,477.67 164.10,484.40 165.50,487.50 C166.90,490.60 167.68,492.05 168.80,494.30 C169.92,496.55 171.22,498.88 172.20,501.00 C173.18,503.12 174.28,506.00 174.70,507.00" fill="none" stroke="#497c02" stroke-width="4.5" stroke-linecap="round" stroke-linejoin="round"/>
<path d="M180.70,450.40 C181.53,450.12 184.02,450.10 185.70,448.70 C187.38,447.30 189.95,443.12 190.80,442.00" fill="none" stroke="#497c02" stroke-width="3.5" stroke-linecap="round" stroke-linejoin="round"/>
<path d="M190.00,443.00 C190.50,442.33 191.70,439.92 193.00,439.00 C194.30,438.08 196.43,437.58 197.80,437.50 C199.17,437.42 200.17,437.58 201.20,438.50 C202.23,439.42 203.53,442.25 204.00,443.00" fill="none" stroke="#497c02" stroke-width="7.0" stroke-linecap="round" stroke-linejoin="round"/>
<path d="M186.00,452.00 C187.13,451.45 191.67,449.25 192.80,448.70" fill="none" stroke="#497c02" stroke-width="3.0" stroke-linecap="round" stroke-linejoin="round"/>
<path d="M208.00,445.30 C209.40,445.58 213.32,446.43 216.40,447.00 C219.48,447.57 224.82,448.42 226.50,448.70" fill="none" stroke="#497c02" stroke-width="2.0" stroke-linecap="round" stroke-linejoin="round"/>
<path d="M202.90,457.10 C204.08,457.17 207.47,457.35 210.00,457.50 C212.53,457.65 216.75,457.92 218.10,458.00" fill="none" stroke="#497c02" stroke-width="2.5" stroke-linecap="round" stroke-linejoin="round"/>
<path d="M214.70,436.00 C217.52,436.00 227.93,435.28 231.60,436.00 C235.27,436.72 235.72,439.03 236.70,440.30 C237.68,441.57 237.37,443.05 237.50,443.60" fill="none" stroke="#497c02" stroke-width="4.0" stroke-linecap="round" stroke-linejoin="round"/>
<path d="M245.00,487.00 C245.33,488.83 246.83,494.67 247.00,498.00 C247.17,501.33 246.17,505.50 246.00,507.00" fill="none" stroke="#497c02" stroke-width="6.0" stroke-linecap="round" stroke-linejoin="round"/>
<path d="M197.80,474.00 C198.08,475.13 199.78,478.82 199.50,480.80 C199.22,482.78 197.08,483.08 196.10,485.90 C195.12,488.72 194.02,495.73 193.60,497.70" fill="none" stroke="#497c02" stroke-width="4.0" stroke-linecap="round" stroke-linejoin="round"/>
<path d="M202.90,453.80 C203.60,456.33 205.98,465.07 207.10,469.00 C208.22,472.93 209.03,474.87 209.60,477.40 C210.17,479.93 210.07,481.67 210.50,484.20 C210.93,486.73 211.63,489.52 212.20,492.60 C212.77,495.68 213.62,501.02 213.90,502.70" fill="none" stroke="#497c02" stroke-width="3.5" stroke-linecap="round" stroke-linejoin="round"/>
<path d="M184.00,452.00 C185.00,451.67 189.00,450.33 190.00,450.00" fill="none" stroke="#497c02" stroke-width="3.0" stroke-linecap="round" stroke-linejoin="round"/>
<path d="M248.00,484.00 C249.68,485.15 255.28,492.28 258.10,490.90 C260.92,489.52 263.48,478.52 264.90,475.70 C266.32,472.88 266.32,474.28 266.60,474.00" fill="none" stroke="#497c02" stroke-width="6.0" stroke-linecap="round" stroke-linejoin="round"/>
<path d="M248.00,497.70 C249.97,497.97 257.27,497.62 259.80,499.30 C262.33,500.98 262.63,506.38 263.20,507.80" fill="none" stroke="#497c02" stroke-width="6.0" stroke-linecap="round" stroke-linejoin="round"/>
<path d="M251.00,490.00 C252.67,492.00 259.33,500.00 261.00,502.00" fill="none" stroke="#497c02" stroke-width="8.0" stroke-linecap="round" stroke-linejoin="round"/>
<path d="M270.50,508.00 C271.17,506.33 273.33,501.33 274.50,498.00 C275.67,494.67 276.58,491.33 277.50,488.00 C278.42,484.67 279.25,481.25 280.00,478.00 C280.75,474.75 281.25,471.25 282.00,468.50 C282.75,465.75 284.08,462.67 284.50,461.50" fill="none" stroke="#497c02" stroke-width="5.0" stroke-linecap="round" stroke-linejoin="round"/>
<path d="M286.80,441.90 C287.65,441.07 289.93,437.73 291.90,436.90 C293.87,436.07 296.92,436.90 298.60,436.90 C300.28,436.90 301.43,436.90 302.00,436.90" fill="none" stroke="#497c02" stroke-width="5.0" stroke-linecap="round" stroke-linejoin="round"/>
<path d="M281.00,450.00 C282.17,449.33 286.83,446.67 288.00,446.00" fill="none" stroke="#497c02" stroke-width="5.0" stroke-linecap="round" stroke-linejoin="round"/>
<path d="M271.00,458.00 C272.50,457.83 278.50,457.17 280.00,457.00" fill="none" stroke="#497c02" stroke-width="2.5" stroke-linecap="round" stroke-linejoin="round"/>
<path d="M279.00,457.00 C280.33,457.08 284.83,456.75 287.00,457.50 C289.17,458.25 291.17,460.83 292.00,461.50" fill="none" stroke="#497c02" stroke-width="5.5" stroke-linecap="round" stroke-linejoin="round"/>
<path d="M264.50,469.50 C265.42,469.17 268.08,468.08 270.00,467.50 C271.92,466.92 275.00,466.25 276.00,466.00" fill="none" stroke="#497c02" stroke-width="4.5" stroke-linecap="round" stroke-linejoin="round"/>
<path d="M290.20,462.20 C290.62,463.33 292.00,466.75 292.70,469.00 C293.40,471.25 293.68,473.17 294.40,475.70 C295.12,478.23 296.30,481.67 297.00,484.20 C297.70,486.73 298.05,488.65 298.60,490.90 C299.15,493.15 300.02,496.57 300.30,497.70" fill="none" stroke="#497c02" stroke-width="5.0" stroke-linecap="round" stroke-linejoin="round"/>
<path d="M302.00,445.30 C302.57,446.42 304.55,449.47 305.40,452.00 C306.25,454.53 306.50,457.38 307.10,460.50 C307.70,463.62 308.35,467.45 309.00,470.70 C309.65,473.95 310.67,478.45 311.00,480.00" fill="none" stroke="#497c02" stroke-width="2.0" stroke-linecap="round" stroke-linejoin="round"/>
<path d="M310.00,480.00 C310.25,482.50 311.20,490.83 311.50,495.00 C311.80,499.17 311.75,503.33 311.80,505.00" fill="none" stroke="#497c02" stroke-width="3.0" stroke-linecap="round" stroke-linejoin="round"/>
<circle cx="89" cy="322" r="3.5" fill="#497c02"/>
<circle cx="92" cy="326" r="3" fill="#497c02"/>
<circle cx="145" cy="331" r="3.5" fill="#497c02"/>
<circle cx="78.8" cy="352.5" r="3" fill="#497c02"/>
<circle cx="80.2" cy="362.5" r="3.8" fill="#497c02"/>
<circle cx="83.5" cy="353.4" r="2.5" fill="#497c02"/>
<circle cx="77.9" cy="343" r="2.5" fill="#497c02"/>
<circle cx="93.8" cy="343" r="2" fill="#497c02"/>
<circle cx="143" cy="333" r="2.5" fill="#497c02"/>
<circle cx="150.4" cy="340.4" r="3" fill="#497c02"/>
<circle cx="154" cy="341.6" r="3" fill="#497c02"/>
<circle cx="174.4" cy="364.4" r="4.5" fill="#497c02"/>
<circle cx="164.8" cy="325.4" r="2.8" fill="#497c02"/>
<circle cx="167.2" cy="318.8" r="2" fill="#497c02"/>
<circle cx="179.2" cy="345.2" r="2.5" fill="#497c02"/>
<circle cx="188" cy="318" r="3" fill="#497c02"/>
<circle cx="200" cy="333" r="3" fill="#497c02"/>
<circle cx="203.5" cy="338" r="3" fill="#497c02"/>
<circle cx="206" cy="335" r="3" fill="#497c02"/>
<circle cx="209.5" cy="333" r="3" fill="#497c02"/>
<circle cx="202" cy="345" r="3" fill="#497c02"/>
<circle cx="206" cy="348" r="3.5" fill="#497c02"/>
<circle cx="208.5" cy="342" r="3" fill="#497c02"/>
<circle cx="210" cy="354.3" r="2.3" fill="#497c02"/>
<circle cx="211.9" cy="360" r="2.3" fill="#497c02"/>
<circle cx="195" cy="361" r="2" fill="#497c02"/>
<circle cx="199.2" cy="372.8" r="4" fill="#497c02"/>
<circle cx="195.6" cy="362" r="2" fill="#497c02"/>
<circle cx="208.8" cy="334.4" r="3" fill="#497c02"/>
<circle cx="222" cy="319.4" r="3.2" fill="#497c02"/>
<circle cx="229.2" cy="359.6" r="4.5" fill="#497c02"/>
<circle cx="236" cy="362" r="4" fill="#497c02"/>
<circle cx="246" cy="318.8" r="4" fill="#497c02"/>
<circle cx="247.2" cy="327.2" r="3" fill="#497c02"/>
<circle cx="242.4" cy="336.8" r="2" fill="#497c02"/>
<circle cx="248.4" cy="339.2" r="2" fill="#497c02"/>
<circle cx="249.2" cy="327.6" r="3" fill="#497c02"/>
<circle cx="249.9" cy="338.8" r="3" fill="#497c02"/>
<circle cx="251.7" cy="345" r="3" fill="#497c02"/>
<circle cx="276.5" cy="321.4" r="3.5" fill="#497c02"/>
<circle cx="287" cy="347" r="4" fill="#497c02"/>
<circle cx="298.8" cy="348.7" r="5" fill="#497c02"/>
<circle cx="302.5" cy="333.8" r="2" fill="#497c02"/>
<circle cx="306.2" cy="328.9" r="2" fill="#497c02"/>
<circle cx="308.7" cy="321.4" r="2" fill="#497c02"/>
<circle cx="310" cy="353.6" r="3" fill="#497c02"/>
<circle cx="301.5" cy="360" r="3" fill="#497c02"/>
<circle cx="305" cy="330" r="2" fill="#497c02"/>
<circle cx="302.5" cy="337" r="2.5" fill="#497c02"/>
<circle cx="306" cy="336" r="2" fill="#497c02"/>
<circle cx="309" cy="326" r="1.8" fill="#497c02"/>
<circle cx="307.5" cy="319" r="1.8" fill="#497c02"/>
<circle cx="299.6" cy="348.7" r="5.3" fill="#497c02"/>
<circle cx="83.4" cy="452" r="3.5" fill="#497c02"/>
<circle cx="84.3" cy="428.5" r="3.5" fill="#497c02"/>
<circle cx="81" cy="434.1" r="1.5" fill="#497c02"/>
<circle cx="96" cy="457.6" r="3.5" fill="#497c02"/>
<circle cx="97.5" cy="461.3" r="3" fill="#497c02"/>
<circle cx="92.3" cy="505.5" r="2.6" fill="#497c02"/>
<circle cx="140.7" cy="501.7" r="3" fill="#497c02"/>
<circle cx="86.2" cy="466.5" r="2.8" fill="#497c02"/>
<circle cx="99.5" cy="470" r="3.5" fill="#497c02"/>
<circle cx="97.5" cy="462" r="2.5" fill="#497c02"/>
<circle cx="87.3" cy="475" r="2" fill="#497c02"/>
<circle cx="89" cy="480" r="2" fill="#497c02"/>
<circle cx="174.5" cy="436.5" r="3.5" fill="#497c02"/>
<circle cx="185.7" cy="441" r="2" fill="#497c02"/>
<circle cx="189.1" cy="436" r="2" fill="#497c02"/>
<circle cx="184" cy="465.6" r="3" fill="#497c02"/>
<circle cx="237.5" cy="447.9" r="2.5" fill="#497c02"/>
<circle cx="240" cy="459.7" r="2.5" fill="#497c02"/>
<circle cx="241.7" cy="470.7" r="3" fill="#497c02"/>
<circle cx="244.3" cy="479" r="2.5" fill="#497c02"/>
<circle cx="246" cy="485.9" r="2.5" fill="#497c02"/>
<circle cx="200.4" cy="465.6" r="3" fill="#497c02"/>
<circle cx="291.9" cy="437" r="4.5" fill="#497c02"/>
<circle cx="291.1" cy="463.8" r="4" fill="#497c02"/>
<circle cx="294.5" cy="475" r="3.5" fill="#497c02"/>
<circle cx="296.8" cy="481.8" r="3.8" fill="#497c02"/>
<circle cx="304.7" cy="451.4" r="3" fill="#497c02"/>
<circle cx="306.3" cy="460.4" r="3" fill="#497c02"/>
<circle cx="308.6" cy="472.8" r="2.5" fill="#497c02"/>
<circle cx="310.3" cy="484" r="2.5" fill="#497c02"/>
<circle cx="293.4" cy="437.9" r="5" fill="#497c02"/>
<circle cx="300.5" cy="440" r="3.5" fill="#497c02"/>
<circle cx="231.5" cy="404.5" r="4.5" fill="#497c02"/>
<circle cx="301.5" cy="406.5" r="2.5" fill="#497c02"/>
<circle cx="299.5" cy="412.3" r="2" fill="#497c02"/>
<circle cx="205.5" cy="466" r="3" fill="#497c02"/>
<circle cx="207.5" cy="473" r="3" fill="#497c02"/>
<circle cx="209.5" cy="483" r="3.2" fill="#497c02"/>
<circle cx="211.5" cy="491" r="3" fill="#497c02"/>
<circle cx="213.5" cy="500" r="3" fill="#497c02"/>
<circle cx="199.5" cy="442" r="3.5" fill="#497c02"/>
<circle cx="301" cy="411.8" r="2" fill="#497c02"/>
<circle cx="292.5" cy="471" r="3.5" fill="#497c02"/>
<circle cx="295" cy="480" r="3.5" fill="#497c02"/>
<circle cx="297.5" cy="488" r="3.5" fill="#497c02"/>
<circle cx="300" cy="496" r="3.5" fill="#497c02"/>
</g>
<rect x="75.4" y="403.3" width="236.79999999999998" height="18.6" fill="none" stroke="#d01020" stroke-width="1.4" stroke-dasharray="1.3 1.0"/>
<rect x="75.4" y="316.2" width="236.79999999999998" height="192.10000000000002" fill="none" stroke="#1a1a1a" stroke-width="1.3"/>
<line x1="114.20" y1="508.30" x2="114.20" y2="505.30" stroke="#1a1a1a" stroke-width="1.2" />
<line x1="136.80" y1="508.30" x2="136.80" y2="505.30" stroke="#1a1a1a" stroke-width="1.2" />
<line x1="181.50" y1="508.30" x2="181.50" y2="505.30" stroke="#1a1a1a" stroke-width="1.2" />
<line x1="193.70" y1="508.30" x2="193.70" y2="505.30" stroke="#1a1a1a" stroke-width="1.2" />
<line x1="232.60" y1="508.30" x2="232.60" y2="505.30" stroke="#1a1a1a" stroke-width="1.2" />
<line x1="255.50" y1="508.30" x2="255.50" y2="505.30" stroke="#1a1a1a" stroke-width="1.2" />
<line x1="300.30" y1="508.30" x2="300.30" y2="505.30" stroke="#1a1a1a" stroke-width="1.2" />
<line x1="75.40" y1="484.00" x2="77.40" y2="484.00" stroke="#1a1a1a" stroke-width="1.2" />
<line x1="75.40" y1="460.00" x2="78.90" y2="460.00" stroke="#1a1a1a" stroke-width="1.2" />
<line x1="75.40" y1="436.00" x2="77.40" y2="436.00" stroke="#1a1a1a" stroke-width="1.2" />
<line x1="75.40" y1="412.00" x2="78.90" y2="412.00" stroke="#1a1a1a" stroke-width="1.2" />
<line x1="75.40" y1="388.00" x2="77.40" y2="388.00" stroke="#1a1a1a" stroke-width="1.2" />
<line x1="75.40" y1="364.00" x2="78.90" y2="364.00" stroke="#1a1a1a" stroke-width="1.2" />
<line x1="75.40" y1="340.00" x2="77.40" y2="340.00" stroke="#1a1a1a" stroke-width="1.2" />
<text x="371.60" y="309.40" font-size="31" text-anchor="start" font-weight="bold" fill="#111" >d</text>
<text x="428.00" y="323.90" font-size="22" text-anchor="end" font-weight="normal" fill="#111" >2.0</text>
<text x="428.00" y="371.90" font-size="22" text-anchor="end" font-weight="normal" fill="#111" >1.0</text>
<text x="428.00" y="419.90" font-size="22" text-anchor="end" font-weight="normal" fill="#111" >0.0</text>
<text x="428.00" y="467.90" font-size="22" text-anchor="end" font-weight="normal" fill="#111" >-1.0</text>
<text x="428.00" y="515.90" font-size="22" text-anchor="end" font-weight="normal" fill="#111" >-2.0</text>
<text transform="translate(383,408) rotate(-90)" font-size="22" text-anchor="middle" fill="#111">Energy (eV)</text>
<text x="554.50" y="531.70" font-size="22" text-anchor="middle" font-weight="normal" fill="#111" >PDOS</text>
<path d="M431.5,403.7 H667.6 V422.7 H431.5" fill="none" stroke="#d01020" stroke-width="1.4" stroke-dasharray="1.3 1.0"/>
<rect x="431.5" y="316.2" width="74.10000000000002" height="192.60000000000002" fill="none" stroke="#1a1a1a" stroke-width="1.3"/>
<line x1="431.50" y1="484.42" x2="433.50" y2="484.42" stroke="#1a1a1a" stroke-width="1.2" />
<line x1="431.50" y1="460.35" x2="435.00" y2="460.35" stroke="#1a1a1a" stroke-width="1.2" />
<line x1="431.50" y1="436.27" x2="433.50" y2="436.27" stroke="#1a1a1a" stroke-width="1.2" />
<line x1="431.50" y1="412.20" x2="435.00" y2="412.20" stroke="#1a1a1a" stroke-width="1.2" />
<line x1="431.50" y1="388.12" x2="433.50" y2="388.12" stroke="#1a1a1a" stroke-width="1.2" />
<line x1="431.50" y1="364.05" x2="435.00" y2="364.05" stroke="#1a1a1a" stroke-width="1.2" />
<line x1="431.50" y1="339.98" x2="433.50" y2="339.98" stroke="#1a1a1a" stroke-width="1.2" />
<rect x="512.8" y="316.2" width="74.60000000000002" height="192.60000000000002" fill="none" stroke="#1a1a1a" stroke-width="1.3"/>
<line x1="512.80" y1="484.42" x2="514.80" y2="484.42" stroke="#1a1a1a" stroke-width="1.2" />
<line x1="512.80" y1="460.35" x2="516.30" y2="460.35" stroke="#1a1a1a" stroke-width="1.2" />
<line x1="512.80" y1="436.27" x2="514.80" y2="436.27" stroke="#1a1a1a" stroke-width="1.2" />
<line x1="512.80" y1="412.20" x2="516.30" y2="412.20" stroke="#1a1a1a" stroke-width="1.2" />
<line x1="512.80" y1="388.12" x2="514.80" y2="388.12" stroke="#1a1a1a" stroke-width="1.2" />
<line x1="512.80" y1="364.05" x2="516.30" y2="364.05" stroke="#1a1a1a" stroke-width="1.2" />
<line x1="512.80" y1="339.98" x2="514.80" y2="339.98" stroke="#1a1a1a" stroke-width="1.2" />
<rect x="594.9" y="316.2" width="74.60000000000002" height="192.60000000000002" fill="none" stroke="#1a1a1a" stroke-width="1.3"/>
<line x1="594.90" y1="484.42" x2="596.90" y2="484.42" stroke="#1a1a1a" stroke-width="1.2" />
<line x1="594.90" y1="460.35" x2="598.40" y2="460.35" stroke="#1a1a1a" stroke-width="1.2" />
<line x1="594.90" y1="436.27" x2="596.90" y2="436.27" stroke="#1a1a1a" stroke-width="1.2" />
<line x1="594.90" y1="412.20" x2="598.40" y2="412.20" stroke="#1a1a1a" stroke-width="1.2" />
<line x1="594.90" y1="388.12" x2="596.90" y2="388.12" stroke="#1a1a1a" stroke-width="1.2" />
<line x1="594.90" y1="364.05" x2="598.40" y2="364.05" stroke="#1a1a1a" stroke-width="1.2" />
<line x1="594.90" y1="339.98" x2="596.90" y2="339.98" stroke="#1a1a1a" stroke-width="1.2" />
<path d="M432.50,316.50 C432.67,317.42 432.88,320.02 433.50,322.00 C434.12,323.98 435.95,326.57 436.20,328.40 C436.45,330.23 435.00,331.45 435.00,333.00 C435.00,334.55 436.40,335.37 436.20,337.70 C436.00,340.03 434.33,343.28 433.80,347.00 C433.27,350.72 433.27,354.50 433.00,360.00 C432.73,365.50 432.32,373.33 432.20,380.00 C432.08,386.67 432.20,394.17 432.30,400.00 C432.40,405.83 432.67,410.68 432.80,415.00 C432.93,419.32 432.87,423.72 433.10,425.90 C433.33,428.08 434.20,426.98 434.20,428.10 C434.20,429.22 432.63,431.28 433.10,432.60 C433.57,433.92 436.72,434.68 437.00,436.00 C437.28,437.32 434.80,438.82 434.80,440.50 C434.80,442.18 436.25,444.22 437.00,446.10 C437.75,447.98 438.37,450.30 439.30,451.80 C440.23,453.30 441.67,453.78 442.60,455.10 C443.53,456.42 443.58,458.47 444.90,459.70 C446.22,460.93 449.00,461.57 450.50,462.50 C452.00,463.43 453.62,464.37 453.90,465.30 C454.18,466.23 453.27,467.35 452.20,468.10 C451.13,468.85 448.85,469.12 447.50,469.80 C446.15,470.48 444.18,471.15 444.10,472.20 C444.02,473.25 447.40,474.97 447.00,476.10 C446.60,477.23 443.32,478.18 441.70,479.00 C440.08,479.82 438.20,479.93 437.30,481.00 C436.40,482.07 436.22,483.87 436.30,485.40 C436.38,486.93 436.98,488.25 437.80,490.20 C438.62,492.15 441.05,495.13 441.20,497.10 C441.35,499.07 439.43,500.22 438.70,502.00 C437.97,503.78 437.12,506.83 436.80,507.80" fill="none" stroke="#e8745c" stroke-width="1.6" stroke-linejoin="round"/>
<path d="M448.40,316.40 C448.60,316.68 448.13,317.37 449.60,318.10 C451.07,318.83 454.38,319.87 457.20,320.80 C460.02,321.73 463.97,322.98 466.50,323.70 C469.03,324.42 470.05,324.68 472.40,325.10 C474.75,325.52 477.48,325.65 480.60,326.20 C483.72,326.75 490.33,327.55 491.10,328.40 C491.87,329.25 487.05,330.37 485.20,331.30 C483.35,332.23 479.80,333.22 480.00,334.00 C480.20,334.78 483.97,335.35 486.40,336.00 C488.83,336.65 494.22,337.27 494.60,337.90 C494.98,338.53 491.23,338.95 488.70,339.80 C486.17,340.65 482.52,342.18 479.40,343.00 C476.28,343.82 473.32,344.07 470.00,344.70 C466.68,345.33 461.53,346.32 459.50,346.80 C457.47,347.28 457.22,347.22 457.80,347.60 C458.38,347.98 460.08,348.42 463.00,349.10 C465.92,349.78 474.13,350.92 475.30,351.70 C476.47,352.48 471.55,353.07 470.00,353.80 C468.45,354.53 466.00,355.38 466.00,356.10 C466.00,356.82 467.97,357.18 470.00,358.10 C472.03,359.02 477.03,360.62 478.20,361.60 C479.37,362.58 479.53,363.30 477.00,364.00 C474.47,364.70 468.73,365.02 463.00,365.80 C457.27,366.58 444.93,367.60 442.60,368.70 C440.27,369.80 449.48,371.53 449.00,372.40 C448.52,373.27 442.32,373.25 439.70,373.90 C437.08,374.55 434.47,375.52 433.30,376.30 C432.13,377.08 431.35,377.15 432.70,378.60 C434.05,380.05 440.82,383.35 441.40,385.00 C441.98,386.65 436.58,387.33 436.20,388.50 C435.82,389.67 439.58,390.92 439.10,392.00 C438.62,393.08 434.47,394.12 433.30,395.00 C432.13,395.88 432.35,396.63 432.10,397.30 C431.85,397.97 431.60,398.13 431.80,399.00 C432.00,399.87 433.25,401.33 433.30,402.50 C433.35,403.67 431.33,404.25 432.10,406.00 C432.87,407.75 436.83,411.53 437.90,413.00 C438.97,414.47 439.18,414.02 438.50,414.80 C437.82,415.58 434.87,416.83 433.80,417.70 C432.73,418.57 432.35,418.62 432.10,420.00 C431.85,421.38 432.23,423.90 432.30,426.00 C432.37,428.10 432.37,430.00 432.50,432.60 C432.63,435.20 432.72,438.60 433.10,441.60 C433.48,444.60 433.77,447.97 434.80,450.60 C435.83,453.23 437.62,455.62 439.30,457.40 C440.98,459.18 443.40,459.98 444.90,461.30 C446.40,462.62 447.93,464.07 448.30,465.30 C448.67,466.53 448.13,467.77 447.10,468.70 C446.07,469.63 443.03,470.15 442.10,470.90 C441.17,471.65 441.13,472.35 441.50,473.20 C441.87,474.05 444.38,475.12 444.30,476.00 C444.22,476.88 442.08,477.75 441.00,478.50 C439.92,479.25 438.58,479.52 437.80,480.50 C437.02,481.48 436.63,483.35 436.30,484.40 C435.97,485.45 435.40,485.83 435.80,486.80 C436.20,487.77 437.97,488.98 438.70,490.20 C439.43,491.42 439.47,492.72 440.20,494.10 C440.93,495.48 443.10,497.18 443.10,498.50 C443.10,499.82 441.02,500.77 440.20,502.00 C439.38,503.23 438.60,504.93 438.20,505.90 C437.80,506.87 436.50,507.32 437.80,507.80 C439.10,508.28 444.63,508.63 446.00,508.80" fill="none" stroke="#c41c3c" stroke-width="1.7" stroke-linejoin="round"/>
<path d="M432.60,316.50 C432.70,318.75 433.20,325.25 433.20,330.00 C433.20,334.75 432.63,340.00 432.60,345.00 C432.57,350.00 433.00,354.17 433.00,360.00 C433.00,365.83 432.63,370.00 432.60,380.00 C432.57,390.00 432.70,410.00 432.80,420.00 C432.90,430.00 433.20,433.33 433.20,440.00 C433.20,446.67 432.80,453.33 432.80,460.00 C432.80,466.67 433.20,473.33 433.20,480.00 C433.20,486.67 432.83,495.33 432.80,500.00 C432.77,504.67 432.97,506.67 433.00,508.00" fill="none" stroke="#6e0a2e" stroke-width="1.5" stroke-linejoin="round"/>
<path d="M595.10,316.50 C595.38,317.63 596.15,320.67 596.80,323.30 C597.45,325.93 598.82,330.43 599.00,332.30 C599.18,334.17 597.52,333.38 597.90,334.50 C598.28,335.62 601.12,337.30 601.30,339.00 C601.48,340.70 599.48,343.20 599.00,344.70 C598.52,346.20 597.83,346.50 598.40,348.00 C598.97,349.50 601.92,352.00 602.40,353.70 C602.88,355.40 601.30,356.70 601.30,358.20 C601.30,359.70 602.60,361.38 602.40,362.70 C602.20,364.02 601.03,365.17 600.10,366.10 C599.17,367.03 597.55,366.82 596.80,368.30 C596.05,369.78 595.68,372.22 595.60,375.00 C595.52,377.78 596.30,381.67 596.30,385.00 C596.30,388.33 595.60,390.83 595.60,395.00 C595.60,399.17 596.30,405.00 596.30,410.00 C596.30,415.00 595.65,419.17 595.60,425.00 C595.55,430.83 596.00,437.50 596.00,445.00 C596.00,452.50 595.60,462.50 595.60,470.00 C595.60,477.50 596.00,483.67 596.00,490.00 C596.00,496.33 595.67,505.00 595.60,508.00" fill="none" stroke="#1a1a1a" stroke-width="1.4" stroke-linejoin="round"/>
<path d="M601.30,316.50 C601.48,316.88 601.28,317.67 602.40,318.80 C603.52,319.93 606.13,322.00 608.00,323.30 C609.87,324.60 612.10,325.67 613.60,326.60 C615.10,327.53 617.18,328.05 617.00,328.90 C616.82,329.75 613.53,330.85 612.50,331.70 C611.47,332.55 610.33,333.07 610.80,334.00 C611.27,334.93 615.58,336.08 615.30,337.30 C615.02,338.52 610.88,339.98 609.10,341.30 C607.32,342.62 605.53,344.08 604.60,345.20 C603.67,346.32 602.55,346.87 603.50,348.00 C604.45,349.13 609.92,350.87 610.30,352.00 C610.68,353.13 606.93,353.77 605.80,354.80 C604.67,355.83 603.50,357.08 603.50,358.20 C603.50,359.32 605.62,360.38 605.80,361.50 C605.98,362.62 605.55,363.95 604.60,364.90 C603.65,365.85 601.40,366.45 600.10,367.20 C598.80,367.95 597.48,368.10 596.80,369.40 C596.12,370.70 595.88,373.23 596.00,375.00 C596.12,376.77 597.50,377.50 597.50,380.00 C597.50,382.50 596.25,386.67 596.00,390.00 C595.75,393.33 595.47,396.67 596.00,400.00 C596.53,403.33 598.60,407.77 599.20,410.00 C599.80,412.23 600.05,412.23 599.60,413.40 C599.15,414.57 597.10,415.73 596.50,417.00 C595.90,418.27 595.43,419.42 596.00,421.00 C596.57,422.58 599.82,425.15 599.90,426.50 C599.98,427.85 596.65,428.13 596.50,429.10 C596.35,430.07 597.50,431.22 599.00,432.30 C600.50,433.38 604.82,434.37 605.50,435.60 C606.18,436.83 603.37,438.20 603.10,439.70 C602.83,441.20 602.95,443.10 603.90,444.60 C604.85,446.10 607.85,447.62 608.80,448.70 C609.75,449.78 607.83,450.15 609.60,451.10 C611.37,452.05 616.13,453.30 619.40,454.40 C622.67,455.50 626.75,456.75 629.20,457.70 C631.65,458.65 632.20,459.43 634.10,460.10 C636.00,460.77 637.88,461.15 640.60,461.70 C643.32,462.25 647.95,462.85 650.40,463.40 C652.85,463.95 655.30,464.38 655.30,465.00 C655.30,465.62 653.12,466.37 650.40,467.10 C647.68,467.83 642.40,468.47 639.00,469.40 C635.60,470.33 630.00,471.67 630.00,472.70 C630.00,473.73 638.32,474.78 639.00,475.60 C639.68,476.42 637.63,476.92 634.10,477.60 C630.57,478.28 621.33,478.95 617.80,479.70 C614.27,480.45 613.87,481.15 612.90,482.10 C611.93,483.05 612.68,484.58 612.00,485.40 C611.32,486.22 608.25,486.32 608.80,487.00 C609.35,487.68 614.35,488.40 615.30,489.50 C616.25,490.60 613.00,492.23 614.50,493.60 C616.00,494.97 623.48,496.35 624.30,497.70 C625.12,499.05 621.17,500.35 619.40,501.70 C617.63,503.05 614.78,504.85 613.70,505.80 C612.62,506.75 611.40,506.93 612.90,507.40 C614.40,507.87 621.07,508.40 622.70,508.60" fill="none" stroke="#505050" stroke-width="1.6" stroke-linejoin="round"/>
<path d="M596.00,316.50 C596.17,318.75 596.58,326.08 597.00,330.00 C597.42,333.92 598.50,337.33 598.50,340.00 C598.50,342.67 596.83,344.00 597.00,346.00 C597.17,348.00 599.42,350.00 599.50,352.00 C599.58,354.00 597.50,356.33 597.50,358.00 C597.50,359.67 599.58,360.33 599.50,362.00 C599.42,363.67 597.58,365.00 597.00,368.00 C596.42,371.00 596.08,374.67 596.00,380.00 C595.92,385.33 596.50,391.67 596.50,400.00 C596.50,408.33 596.00,418.33 596.00,430.00 C596.00,441.67 596.50,457.00 596.50,470.00 C596.50,483.00 596.08,501.67 596.00,508.00" fill="none" stroke="#9a9a9a" stroke-width="1.3" stroke-linejoin="round"/>
<line x1="513.30" y1="316.20" x2="513.30" y2="508.80" stroke="#78d068" stroke-width="1.6" />
<path d="M513.60,316.50 C513.70,317.25 513.88,319.08 514.20,321.00 C514.52,322.92 515.12,326.12 515.50,328.00 C515.88,329.88 516.62,331.22 516.50,332.30 C516.38,333.38 515.28,332.25 514.80,334.50 C514.32,336.75 513.60,341.67 513.60,345.80 C513.60,349.93 514.42,356.10 514.80,359.30 C515.18,362.50 516.10,363.22 515.90,365.00 C515.70,366.78 513.88,368.42 513.60,370.00 C513.32,371.58 514.20,373.28 514.20,374.50 C514.20,375.72 513.13,376.55 513.60,377.30 C514.07,378.05 515.50,378.33 517.00,379.00 C518.50,379.67 521.10,380.37 522.60,381.30 C524.10,382.23 525.80,383.58 526.00,384.60 C526.20,385.62 525.12,386.55 523.80,387.40 C522.48,388.25 519.60,389.03 518.10,389.70 C516.60,390.37 515.45,390.55 514.80,391.40 C514.15,392.25 514.40,393.12 514.20,394.80 C514.00,396.48 513.60,399.63 513.60,401.50 C513.60,403.37 513.82,404.87 514.20,406.00 C514.58,407.13 513.18,407.55 515.90,408.30 C518.62,409.05 525.25,409.80 530.50,410.50 C535.75,411.20 541.87,411.88 547.40,412.50 C552.93,413.12 563.70,413.63 563.70,414.20 C563.70,414.77 552.93,415.38 547.40,415.90 C541.87,416.42 535.57,416.78 530.50,417.30 C525.43,417.82 519.82,418.45 517.00,419.00 C514.18,419.55 514.20,418.77 513.60,420.60 C513.00,422.43 513.23,427.43 513.40,430.00 C513.57,432.57 514.57,434.00 514.60,436.00 C514.63,438.00 513.57,439.67 513.60,442.00 C513.63,444.33 514.80,447.33 514.80,450.00 C514.80,452.67 513.65,455.33 513.60,458.00 C513.55,460.67 514.50,463.17 514.50,466.00 C514.50,468.83 513.63,471.83 513.60,475.00 C513.57,478.17 514.30,481.67 514.30,485.00 C514.30,488.33 513.68,491.17 513.60,495.00 C513.52,498.83 513.77,505.83 513.80,508.00" fill="none" stroke="#55941a" stroke-width="1.7" stroke-linejoin="round"/>
<line x1="452.00" y1="476.30" x2="476.80" y2="476.30" stroke="#e8745c" stroke-width="1.6" />
<text x="479.7" y="480.0" font-size="10.5" fill="#111">Ge_<tspan font-style="italic">s</tspan></text>
<line x1="452.00" y1="489.40" x2="476.80" y2="489.40" stroke="#c41c3c" stroke-width="1.6" />
<text x="479.7" y="493.1" font-size="10.5" fill="#111">Ge_<tspan font-style="italic">p</tspan></text>
<line x1="452.00" y1="502.40" x2="476.80" y2="502.40" stroke="#6e0a2e" stroke-width="1.6" />
<text x="479.7" y="506.1" font-size="10.5" fill="#111">Ge_<tspan font-style="italic">d</tspan></text>
<line x1="527.40" y1="476.70" x2="551.90" y2="476.70" stroke="#c8e05a" stroke-width="1.6" />
<text x="554.4" y="480.4" font-size="10.5" fill="#111">Mn_<tspan font-style="italic">s</tspan></text>
<line x1="527.40" y1="489.60" x2="551.90" y2="489.60" stroke="#78d068" stroke-width="1.6" />
<text x="554.4" y="493.3" font-size="10.5" fill="#111">Mn_<tspan font-style="italic">p</tspan></text>
<line x1="527.40" y1="502.50" x2="551.90" y2="502.50" stroke="#55941a" stroke-width="1.6" />
<text x="554.4" y="506.2" font-size="10.5" fill="#111">Mn_<tspan font-style="italic">d</tspan></text>
<line x1="616.50" y1="324.30" x2="640.20" y2="324.30" stroke="#1a1a1a" stroke-width="1.6" />
<text x="643.1" y="328.0" font-size="10.5" fill="#111">Se_<tspan font-style="italic">s</tspan></text>
<line x1="616.50" y1="337.60" x2="640.20" y2="337.60" stroke="#505050" stroke-width="1.6" />
<text x="643.1" y="341.3" font-size="10.5" fill="#111">Se_<tspan font-style="italic">p</tspan></text>
<line x1="616.50" y1="350.80" x2="640.20" y2="350.80" stroke="#9a9a9a" stroke-width="1.6" />
<text x="643.1" y="354.5" font-size="10.5" fill="#111">Se_<tspan font-style="italic">d</tspan></text>
</svg></body></html>
